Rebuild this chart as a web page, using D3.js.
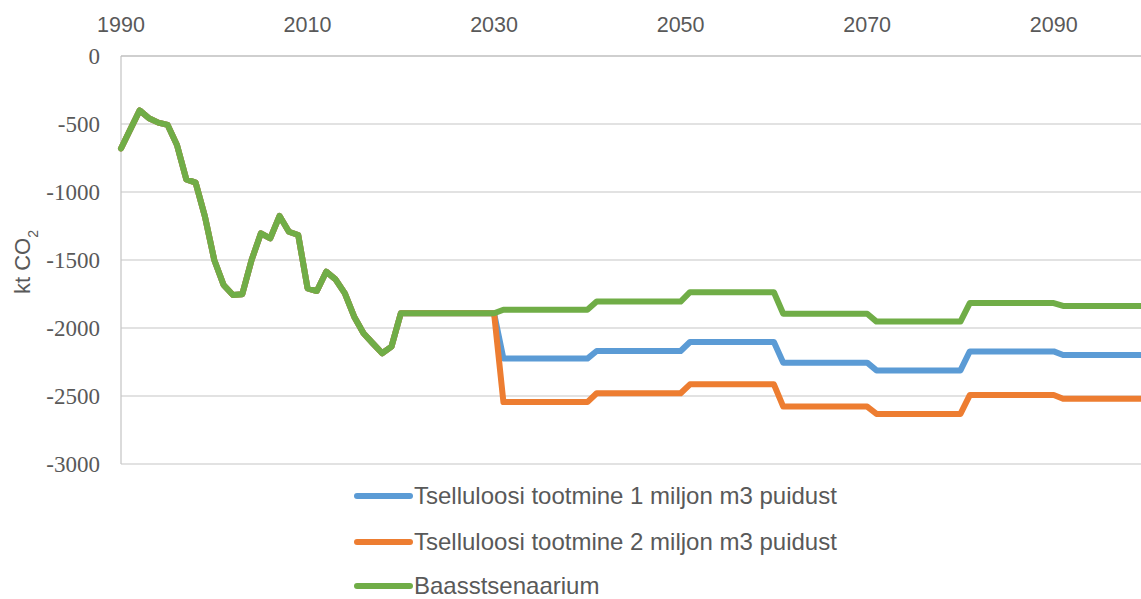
<!DOCTYPE html>
<html>
<head>
<meta charset="utf-8">
<script src="https://cdn.jsdelivr.net/npm/d3@7"></script>
<style>
  body { margin: 0; background: #fff; }
</style>
</head>
<body>
<div id="chart"></div>
<script>
// years 1990..2100
const years = d3.range(1990, 2101);

// history 1990-2030 (shared by all scenarios)
const history = [
  -680, -540, -400, -458, -490, -507, -654, -907, -931, -1181,
  -1500, -1684, -1757, -1752, -1500, -1304, -1341, -1176, -1292, -1316,
  -1708, -1728, -1586, -1642, -1745, -1917, -2039, -2113, -2186, -2137,
  -1892, -1892, -1892, -1892, -1892, -1892, -1892, -1892, -1892, -1892,
  -1892
];

// 2031-2100
const baseFuture = [
  -1866, -1866, -1866, -1866, -1866, -1866, -1866, -1866, -1866, -1866,
  -1806, -1806, -1806, -1806, -1806, -1806, -1806, -1806, -1806, -1806,
  -1737, -1737, -1737, -1737, -1737, -1737, -1737, -1737, -1737, -1737,
  -1895, -1895, -1895, -1895, -1895, -1895, -1895, -1895, -1895, -1895,
  -1953, -1953, -1953, -1953, -1953, -1953, -1953, -1953, -1953, -1953,
  -1817, -1817, -1817, -1817, -1817, -1817, -1817, -1817, -1817, -1817,
  -1838, -1838, -1838, -1838, -1838, -1838, -1838, -1838, -1838, -1838
];
const pulp1Future = [
  -2225, -2225, -2225, -2225, -2225, -2225, -2225, -2225, -2225, -2225,
  -2169, -2169, -2169, -2169, -2169, -2169, -2169, -2169, -2169, -2169,
  -2103, -2103, -2103, -2103, -2103, -2103, -2103, -2103, -2103, -2103,
  -2255, -2255, -2255, -2255, -2255, -2255, -2255, -2255, -2255, -2255,
  -2312, -2312, -2312, -2312, -2312, -2312, -2312, -2312, -2312, -2312,
  -2172, -2172, -2172, -2172, -2172, -2172, -2172, -2172, -2172, -2172,
  -2199, -2199, -2199, -2199, -2199, -2199, -2199, -2199, -2199, -2199
];
const pulp2Future = [
  -2545, -2545, -2545, -2545, -2545, -2545, -2545, -2545, -2545, -2545,
  -2480, -2480, -2480, -2480, -2480, -2480, -2480, -2480, -2480, -2480,
  -2414, -2414, -2414, -2414, -2414, -2414, -2414, -2414, -2414, -2414,
  -2578, -2578, -2578, -2578, -2578, -2578, -2578, -2578, -2578, -2578,
  -2632, -2632, -2632, -2632, -2632, -2632, -2632, -2632, -2632, -2632,
  -2493, -2493, -2493, -2493, -2493, -2493, -2493, -2493, -2493, -2493,
  -2520, -2520, -2520, -2520, -2520, -2520, -2520, -2520, -2520, -2520
];

const seriesNames = [
  "Tselluloosi tootmine 1 miljon m3 puidust",
  "Tselluloosi tootmine 2 miljon m3 puidust",
  "Baasstsenaarium"
];
const seriesColors = ["#5b9bd5", "#ed7d31", "#70ad47"];
const seriesValues = [
  history.concat(pulp1Future),
  history.concat(pulp2Future),
  history.concat(baseFuture)
];
const xTickYears = [1990, 2010, 2030, 2050, 2070, 2090];
const yTicks = [0, -500, -1000, -1500, -2000, -2500, -3000];

const W = 1141, H = 599;
const margin = {top: 56, left: 121, bottom: 135};

const svg = d3.select("#chart").append("svg")
    .attr("width", W)
    .attr("height", H);

const x = d3.scaleLinear().domain([1990, 2100]).range([margin.left, 1147]);
const y = d3.scaleLinear().domain([-3000, 0]).range([H - margin.bottom, margin.top]);

// gridlines
svg.append("g")
    .selectAll("line")
    .data(yTicks.filter(d => d !== 0))
    .enter().append("line")
    .attr("x1", margin.left).attr("x2", W)
    .attr("y1", d => y(d)).attr("y2", d => y(d))
    .attr("stroke", "#d9d9d9")
    .attr("stroke-width", 1.3);

// left value axis line
svg.append("line")
    .attr("x1", margin.left).attr("x2", margin.left)
    .attr("y1", y(0)).attr("y2", y(-3000))
    .attr("stroke", "#c8c8c8")
    .attr("stroke-width", 1.3);

// top category axis (crosses at 0)
svg.append("line")
    .attr("x1", margin.left).attr("x2", W)
    .attr("y1", y(0)).attr("y2", y(0))
    .attr("stroke", "#bfbfbf")
    .attr("stroke-width", 1.5);

// y tick labels
svg.append("g")
    .selectAll("text")
    .data(yTicks)
    .enter().append("text")
    .attr("x", 100)
    .attr("y", d => y(d))
    .attr("dy", "0.33em")
    .attr("text-anchor", "end")
    .style("font-family", "'Liberation Serif', 'Times New Roman', serif")
    .style("font-size", "23px")
    .style("fill", "#595959")
    .text(d => d);

// x tick labels on top
svg.append("g")
    .selectAll("text")
    .data(xTickYears)
    .enter().append("text")
    .attr("x", d => x(d))
    .attr("y", 24)
    .attr("dy", "0.35em")
    .attr("text-anchor", "middle")
    .style("font-family", "'Liberation Sans', Arial, sans-serif")
    .style("font-size", "21.5px")
    .style("fill", "#595959")
    .text(d => d);

// y axis title
const yTitle = svg.append("text")
    .attr("transform", "translate(30,262) rotate(-90)")
    .attr("text-anchor", "middle")
    .style("font-family", "'Liberation Sans', Arial, sans-serif")
    .style("font-size", "22px")
    .style("fill", "#595959");
yTitle.append("tspan").text("kt CO");
yTitle.append("tspan")
    .attr("baseline-shift", "sub")
    .style("font-size", "14px")
    .text("2");

// lines
const line = d3.line()
    .x((d, i) => x(years[i]))
    .y(d => y(d));

svg.append("g")
    .selectAll("path")
    .data(seriesValues)
    .enter().append("path")
    .attr("d", d => line(d))
    .attr("fill", "none")
    .attr("stroke", (d, i) => seriesColors[i])
    .attr("stroke-width", 6)
    .attr("stroke-linejoin", "round")
    .attr("stroke-linecap", "round");

// legend
const legendY = [496, 542, 586];
const legend = svg.append("g")
    .selectAll("g")
    .data(seriesNames)
    .enter().append("g")
    .attr("transform", (d, i) => "translate(0," + legendY[i] + ")");

legend.append("line")
    .attr("x1", 357).attr("x2", 410)
    .attr("y1", 0).attr("y2", 0)
    .attr("stroke", (d, i) => seriesColors[i])
    .attr("stroke-width", 6)
    .attr("stroke-linecap", "round");

legend.append("text")
    .attr("x", 414)
    .attr("y", 0)
    .attr("dy", "0.35em")
    .style("font-family", "'Liberation Sans', Arial, sans-serif")
    .style("font-size", "24px")
    .style("fill", "#595959")
    .text(d => d);
</script>
</body>
</html>
